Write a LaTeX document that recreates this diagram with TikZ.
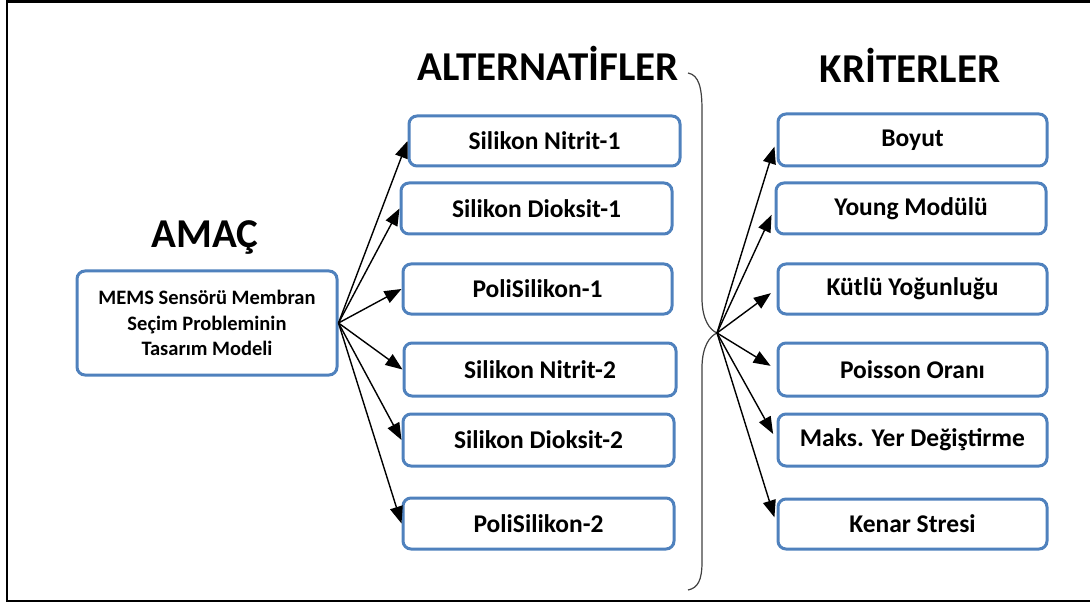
\documentclass[tikz,border=0pt]{standalone}
\usepackage{fontspec}
\setmainfont{Carlito}
\usetikzlibrary{arrows.meta}
\definecolor{boxblue}{RGB}{79,129,189}
\tikzset{
  box/.style={draw=boxblue, line width=3pt, rounded corners=8pt, fill=white,
    inner sep=0pt, align=center, font=\fontsize{25.5}{29}\selectfont\bfseries},
  goalbox/.style={box, font=\fontsize{20.5}{25.5}\selectfont\bfseries},
  ttl/.style={font=\fontsize{41}{46}\selectfont\bfseries, inner sep=0pt},
  arr/.style={draw=black, line width=1.4pt, -{Triangle[length=17pt,width=13pt]}},
  brace/.style={draw=black!75, line width=1.2pt}
}
\begin{document}
\begin{tikzpicture}[x=1pt,y=-1pt]
\useasboundingbox (0,0) rectangle (1090,604);
% frame
\draw[line width=2.5pt] (1095,1.5) -- (7,1.5) -- (7,601) -- (1095,601);
% titles
\node[ttl] (tgoal) at (205,238) {AMAÇ};
\node[ttl] (talt) at (548,63) {ALTERNATİFLER};
\node[ttl] (tcrit) at (910,65) {KRİTERLER};
% goal
\node[goalbox, minimum width=260pt, minimum height=104pt] (goal) at (207,323)
  {MEMS Sensörü Membran\\Seçim Probleminin\\Tasarım Modeli};
% alternatives
\node[box, minimum width=271pt, minimum height=50pt] (a1) at (544.5,141) {Silikon Nitrit-1};
\node[box, minimum width=271pt, minimum height=51pt] (a2) at (536.5,208.5) {Silikon Dioksit-1};
\node[box, minimum width=269pt, minimum height=50pt] (a3) at (537.5,289) {PoliSilikon-1};
\node[box, minimum width=272pt, minimum height=53pt] (a4) at (540,369.5) {Silikon Nitrit-2};
\node[box, minimum width=271pt, minimum height=52pt] (a5) at (538.5,440) {Silikon Dioksit-2};
\node[box, minimum width=271pt, minimum height=51pt] (a6) at (538.5,523.5) {PoliSilikon-2};
% criteria
\node[box, minimum width=269pt, minimum height=52pt] (c1) at (912.5,140) {Boyut};
\node[box, minimum width=270pt, minimum height=51pt] (c2) at (911,208.5) {Young Modülü};
\node[box, minimum width=269pt, minimum height=50pt] (c3) at (912.5,289) {Kütlü Yoğunluğu};
\node[box, minimum width=269pt, minimum height=53pt] (c4) at (912.5,369.5) {Poisson Oranı};
\node[box, minimum width=269pt, minimum height=52pt] (c5) at (912.5,440) {Maks. Yer Değiştirme};
\node[box, minimum width=269pt, minimum height=50pt] (c6) at (912.5,524) {Kenar Stresi};
% brace
\coordinate (btip) at (717,333);
\draw[brace] (688,73) .. controls (699,75) and (702,88) .. (702,110) -- (702,298)
  .. controls (702,320) and (710,330) .. (btip)
  .. controls (710,336) and (702,346) .. (702,368) -- (702,562)
  .. controls (702,580) and (698,588) .. (688,590);
% arrows from goal
\foreach \n in {a1,a2,a3,a4,a5,a6}
  \draw[arr] (goal.east) -- (\n.west);
% arrows from brace
\foreach \n in {c1,c2,c3,c4,c5,c6}
  \draw[arr, shorten >=7pt] (btip) -- (\n.west);
\end{tikzpicture}
\end{document}
